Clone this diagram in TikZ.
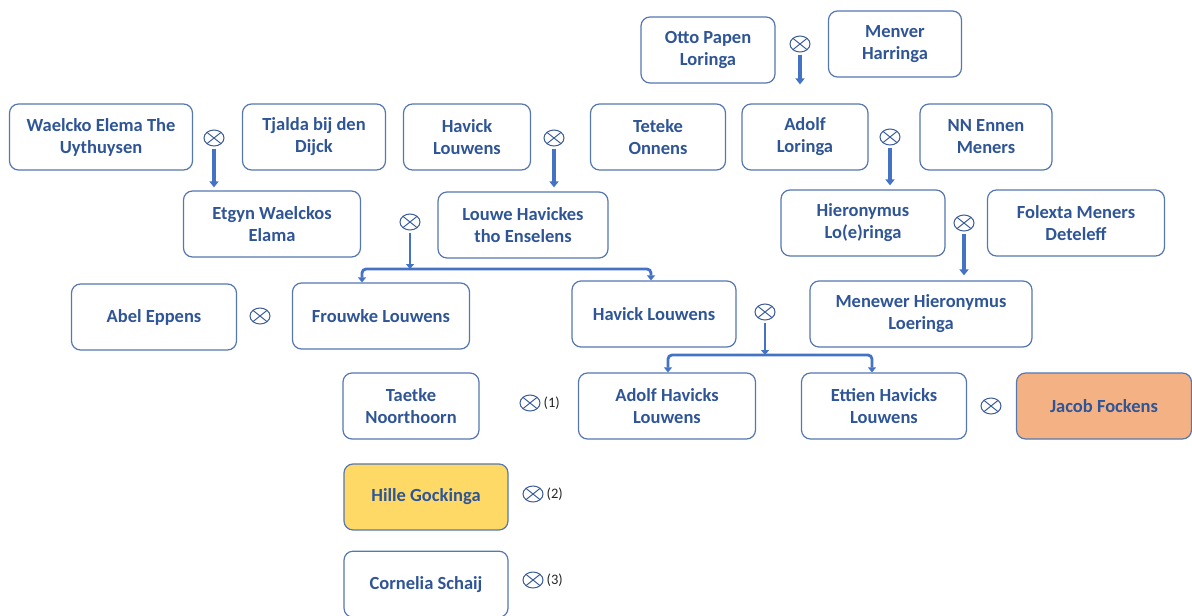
\documentclass[tikz,border=0pt]{standalone}
\usepackage{fontspec}
\setmainfont{Carlito}
\usepackage{tikz}
\usetikzlibrary{arrows.meta,positioning,shapes.geometric,calc}
\usepackage{xcolor}
\definecolor{textblue}{HTML}{2F5597}
\definecolor{edgeblue}{HTML}{5677B0}
\definecolor{linkblue}{HTML}{4472C4}
\definecolor{markblue}{HTML}{3B5C99}
\definecolor{hilleyellow}{HTML}{FFD966}
\definecolor{jacoborange}{HTML}{F4B183}

\begin{document}
\begin{tikzpicture}[
    x=1pt, y=-1pt,
    person/.style={rectangle, rounded corners=9pt, draw=edgeblue, line width=1.2pt, fill=white,
        minimum height=66pt, align=center, text=textblue,
        font=\fontsize{18.5}{22}\selectfont\bfseries},
    marr/.style={ellipse, draw=markblue, line width=1pt, minimum width=20pt, minimum height=16pt, inner sep=0pt,
        path picture={\draw[markblue, line width=1pt]
            (path picture bounding box.north west) -- (path picture bounding box.south east)
            (path picture bounding box.north east) -- (path picture bounding box.south west);}},
    note/.style={font=\fontsize{14.5}{16}\selectfont, text=black!85, inner sep=1pt},
    link/.style={draw=linkblue, line width=3.6pt, -{Triangle[width=9pt,length=6pt]}, shorten <=2pt},
    fork/.style={draw=linkblue, line width=2.8pt, rounded corners=4pt, -{Triangle[width=8pt,length=5pt]}}
]
\useasboundingbox (0,0) rectangle (1192,616);

% generation 1
\node[person, minimum width=134pt] (otto) at (708,50) {Otto Papen\\Loringa};
\node[person, minimum width=133pt] (menver) at (895,44) {Menver\\Harringa};
\node[marr] (m0) at (800,44) {};

% generation 2
\node[person, minimum width=183pt] (waelcko) at (101,137) {Waelcko Elema The\\Uythuysen};
\node[person, minimum width=143pt] (tjalda) at (314,137) {Tjalda bij den\\Dijck};
\node[marr] (m1) at (214,138) {};
\node[person, minimum width=127pt] (havickA) at (467,137) {Havick\\Louwens};
\node[marr] (m2) at (554,138) {};
\node[person, minimum width=135pt] (teteke) at (658,137) {Teteke\\Onnens};
\node[person, minimum width=126pt] (adolfL) at (805,137) {Adolf\\Loringa};
\node[marr] (m3) at (890,137) {};
\node[person, minimum width=132pt] (nnennen) at (986,137) {NN Ennen\\Meners};

% generation 3
\node[person, minimum width=177pt] (etgyn) at (272,224) {Etgyn Waelckos\\Elama};
\node[person, minimum width=170pt] (louwe) at (523,225) {Louwe Havickes\\tho Enselens};
\node[marr] (m4) at (410,222) {};
\node[person, minimum width=164pt] (hieron) at (863,223) {Hieronymus\\Lo(e)ringa};
\node[marr] (m5) at (964,223) {};
\node[person, minimum width=177pt] (folexta) at (1076,223) {Folexta Meners\\Deteleff};

% generation 4
\node[person, minimum width=165pt] (abel) at (154,317) {Abel Eppens};
\node[marr] (m6) at (260,316) {};
\node[person, minimum width=177pt] (frouwke) at (381,316) {Frouwke Louwens};
\node[person, minimum width=164pt] (havickB) at (654,314) {Havick Louwens};
\node[marr] (m7) at (765,312) {};
\node[person, minimum width=222pt] (menewer) at (921,314) {Menewer Hieronymus\\Loeringa};

% generation 5
\node[person, minimum width=136pt] (taetke) at (411,406) {Taetke\\Noorthoorn};
\node[marr] (m8) at (530,403) {};
\node[note, right=2pt of m8] (n1) {(1)};
\node[person, minimum width=177pt] (adolfH) at (667,406) {Adolf Havicks\\Louwens};
\node[person, minimum width=165pt] (ettien) at (884,406) {Ettien Havicks\\Louwens};
\node[marr] (m9) at (991,406) {};
\node[person, minimum width=175pt, fill=jacoborange] (jacob) at (1104,406) {Jacob Fockens};
\node[person, minimum width=164pt, fill=hilleyellow] (hille) at (426,497) {Hille Gockinga};
\node[marr] (m10) at (533,494) {};
\node[note, right=2pt of m10] (n2) {(2)};
\node[person, minimum width=164pt, below=20pt of hille] (cornelia) {Cornelia Schaij};
\node[marr] (m11) at (533,580) {};
\node[note, right=2pt of m11] (n3) {(3)};

% descent
\draw[link, shorten >=19pt] (m0.south) -- (m0.south |- adolfL.north);
\draw[link, shorten >=3pt] (m1.south) -- (m1.south |- etgyn.north);
\draw[link, shorten >=4pt] (m2.south) -- (m2.south |- louwe.north);
\draw[link, shorten >=4pt] (m3.south) -- (m3.south |- hieron.north);
\draw[link, shorten >=5pt] (m5.south) -- (m5.south |- menewer.north);

\coordinate (j4) at (410,269);
\draw[fork, shorten <=2pt] (m4.south) -- (j4);
\draw[fork] (j4) -| ([xshift=-19pt]frouwke.north);
\draw[fork] (j4) -| ([xshift=-3pt]havickB.north);

\coordinate (j7) at (765,355);
\draw[fork, shorten <=2pt] (m7.south) -- (j7);
\draw[fork] (j7) -| ([xshift=1pt]adolfH.north);
\draw[fork] (j7) -| ([xshift=-12pt]ettien.north);
\end{tikzpicture}
\end{document}
